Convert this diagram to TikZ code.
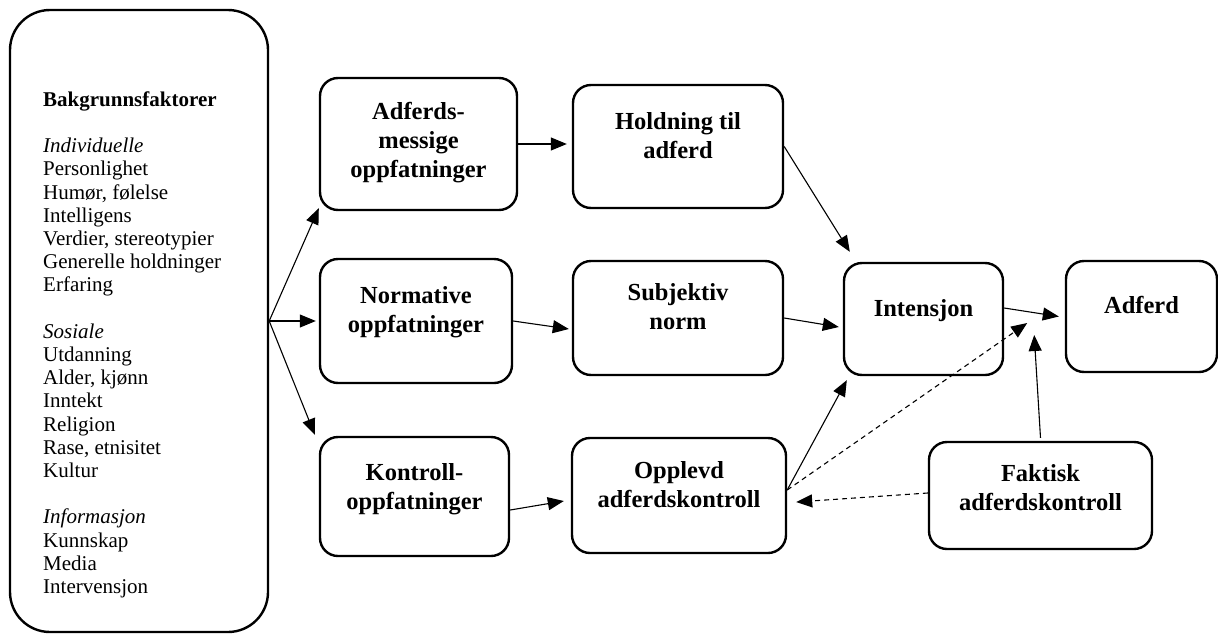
\documentclass[tikz,border=0pt]{standalone}
\usepackage{fontspec}
\setmainfont{Liberation Serif}
\usetikzlibrary{arrows.meta,calc}
\tikzset{
  box/.style={draw, line width=2.4pt, rounded corners=18pt, inner sep=0pt},
  boxtext/.style={anchor=north, inner sep=0pt, align=center, font=\fontsize{24.5}{29}\selectfont\bfseries},
  conn/.style={line width=1.1pt, -{Triangle[length=16pt,width=13pt]}},
  dconn/.style={conn, dash pattern=on 5pt off 4pt}
}
\begin{document}
\begin{tikzpicture}[x=1pt,y=-1pt]
\useasboundingbox (0,0) rectangle (1218,635);
% background factors box
\node[box, rounded corners=40pt, minimum width=258pt, minimum height=622pt] (bg) at (139,321) {};
\node[anchor=north west, inner sep=0pt, align=left, font=\fontsize{21}{23.2}\selectfont] (bgtext) at (43,89.8)
{\strut\textbf{Bakgrunnsfaktorer}\\
~\\
\textit{Individuelle}\\
Personlighet\\
Humør, følelse\\
Intelligens\\
Verdier, stereotypier\\
Generelle holdninger\\
Erfaring\\
~\\
\textit{Sosiale}\\
Utdanning\\
Alder, kjønn\\
Inntekt\\
Religion\\
Rase, etnisitet\\
Kultur\\
~\\
\textit{Informasjon}\\
Kunnskap\\
Media\\
Intervensjon};
% boxes
\node[box, minimum width=197pt, minimum height=132pt] (A) at (418.5,144) {};
\node[box, minimum width=210pt, minimum height=123pt] (H) at (678,146.5) {};
\node[box, minimum width=192pt, minimum height=124pt] (N) at (416,321) {};
\node[box, minimum width=210pt, minimum height=114pt] (S) at (678,318) {};
\node[box, minimum width=159pt, minimum height=112pt] (I) at (923.5,319) {};
\node[box, minimum width=151pt, minimum height=111pt] (B) at (1141.5,316.5) {};
\node[box, minimum width=189pt, minimum height=119pt] (K) at (414.5,496.5) {};
\node[box, minimum width=214pt, minimum height=115pt] (O) at (679,495.5) {};
\node[box, minimum width=223pt, minimum height=107pt] (F) at (1040.5,495.5) {};
% texts
\node[boxtext] (tA) at (418.5,99.1) {\strut Adferds-\\messige\\oppfatninger};
\node[boxtext] (tH) at (678,108.8) {\strut Holdning til\\adferd};
\node[boxtext] (tN) at (416,282.8) {\strut Normative\\oppfatninger};
\node[boxtext] (tS) at (678,279.8) {\strut Subjektiv\\norm};
\node[boxtext] (tI) at (923.5,295.8) {\strut Intensjon};
\node[boxtext] (tB) at (1141.5,292.8) {\strut Adferd};
\node[boxtext] (tK) at (414.5,459.8) {\strut Kontroll-\\oppfatninger};
\node[boxtext] (tO) at (679,457.8) {\strut Opplevd\\adferdskontroll};
\node[boxtext] (tF) at (1040.5,460.8) {\strut Faktisk\\adferdskontroll};
% free ends
\coordinate (m1) at ($(I.east)+(23pt,-4pt)$);
\coordinate (m2) at ($(I.east)+(30pt,-16pt)$);
% connectors
\draw[conn] (bg.east) -- ([yshift=3pt]A.south west);
\draw[conn] (bg.east) -- ([xshift=-3pt]N.west);
\draw[conn] (bg.east) -- ([xshift=-4pt,yshift=1pt]K.north west);
\draw[conn] (A.east) -- ([xshift=-5pt]A.east -| H.west);
\draw[conn] (H.east) -- ($(I.north west)+(7pt,10pt)$);
\draw[conn] (N.east) -- ([xshift=-3pt,yshift=-11pt]S.west);
\draw[conn] (S.east) -- ([xshift=-4pt,yshift=-8pt]I.west);
\draw[conn] ([yshift=11pt]I.east) -- ([xshift=-6pt]B.west);
\draw[conn] ([yshift=-13.5pt]K.east) -- ([xshift=-7pt,yshift=-5.5pt]O.west);
\draw[conn] ([yshift=5.5pt]O.east) -- ([xshift=4pt,yshift=-4pt]I.south west);
\draw[dconn] ([yshift=5.5pt]O.east) -- (m1);
\draw[conn] ([yshift=3pt]F.north) -- (m2);
\draw[dconn] ([yshift=2.5pt]F.west) -- ([xshift=9pt,yshift=-6.5pt]O.east);
\end{tikzpicture}
\end{document}
